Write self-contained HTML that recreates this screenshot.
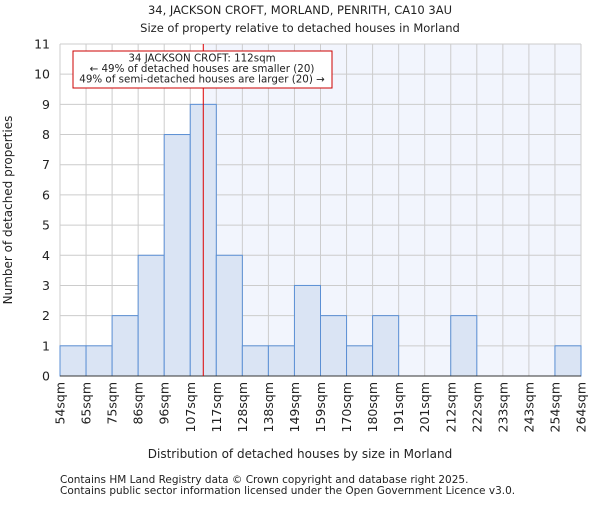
<!DOCTYPE html>
<html><head><meta charset="utf-8"><style>
body{margin:0;background:#fff;}
svg text{font-family:"DejaVu Sans","Liberation Sans",sans-serif;fill:#222;}
</style></head><body>
<svg id="chart" width="600" height="500" xmlns="http://www.w3.org/2000/svg">
<text x="300" y="14" font-size="11.5" text-anchor="middle">34, JACKSON CROFT, MORLAND, PENRITH, CA10 3AU</text>
<text x="300" y="32" font-size="11.5" text-anchor="middle">Size of property relative to detached houses in Morland</text>
<g id="plot"></g>
<text x="300" y="458" font-size="12" text-anchor="middle">Distribution of detached houses by size in Morland</text>
<text transform="translate(12,210) rotate(-90)" font-size="12" text-anchor="middle">Number of detached properties</text>
<text x="60" y="483" font-size="10.5" fill="#444">Contains HM Land Registry data © Crown copyright and database right 2025.</text>
<text x="60" y="494" font-size="10.5" fill="#444">Contains public sector information licensed under the Open Government Licence v3.0.</text>
</svg>
<script>
const binLabels=["54sqm","65sqm","75sqm","86sqm","96sqm","107sqm","117sqm","128sqm","138sqm","149sqm","159sqm","170sqm","180sqm","191sqm","201sqm","212sqm","222sqm","233sqm","243sqm","254sqm","264sqm"];
const binEdges=[54,65,75,86,96,107,117,128,138,149,159,170,180,191,201,212,222,233,243,254,264];
const counts=[1,1,2,4,8,9,4,1,1,3,2,1,2,0,0,2,0,0,0,1];
const yTicks=[0,1,2,3,4,5,6,7,8,9,10,11];
const subjectSize=112;
const L=60,R=581,T=44,B=376,yMax=11;
const n=counts.length;
const xi=i=>L+(R-L)*i/n;
const y=v=>B-(B-T)*v/yMax;
function xv(v){for(let i=0;i<binEdges.length-1;i++){if(v<=binEdges[i+1]){return xi(i)+(v-binEdges[i])/(binEdges[i+1]-binEdges[i])*(xi(i+1)-xi(i));}}return R;}
const NS="http://www.w3.org/2000/svg";
const g=document.getElementById('plot');
function mk(t,a){const e=document.createElementNS(NS,t);for(const k in a)e.setAttribute(k,a[k]);g.appendChild(e);return e;}
const sx=xv(subjectSize);
const bg=mk('rect',{x:sx,y:T,width:R-sx,height:B-T,fill:'#f2f5fd'});


yTicks.forEach(t=>{const l=mk('line',{x1:L,x2:R,y1:y(t),y2:y(t),stroke:'#cccccc','stroke-width':1});


const tx=mk('text',{x:L-10,y:y(t)+4.5,'font-size':12.5,'text-anchor':'end'});tx.textContent=t;

});
for(let i=0;i<=n;i++){const l=mk('line',{x1:xi(i),x2:xi(i),y1:T,y2:B,stroke:'#cccccc','stroke-width':1});

}
counts.forEach((c,i)=>{if(c<=0)return;const r=mk('rect',{x:xi(i),y:y(c),width:xi(i+1)-xi(i),height:B-y(c),fill:'#dae4f4',stroke:'#5b8fd4','stroke-width':1});

});
binLabels.forEach((s,i)=>{const tx=mk('text',{transform:`translate(${xi(i)+4.5},382) rotate(-90)`,'font-size':12.5,'text-anchor':'end'});tx.textContent=s;

});
const ax=mk('line',{x1:L,x2:R,y1:B,y2:B,stroke:'#333','stroke-width':1});


const rl=mk('line',{x1:sx,x2:sx,y1:T,y2:B,stroke:'#dd0000','stroke-width':1});


const box=mk('rect',{x:73,y:51,width:259,height:37,fill:'#fff',stroke:'#cc0000','stroke-width':1});


["34 JACKSON CROFT: 112sqm","← 49% of detached houses are smaller (20)","49% of semi-detached houses are larger (20) →"].forEach((s,k)=>{const tx=mk('text',{x:202,y:61.5+k*10.5,'font-size':10.3,'text-anchor':'middle'});tx.textContent=s;

});
</script>
</body></html>
